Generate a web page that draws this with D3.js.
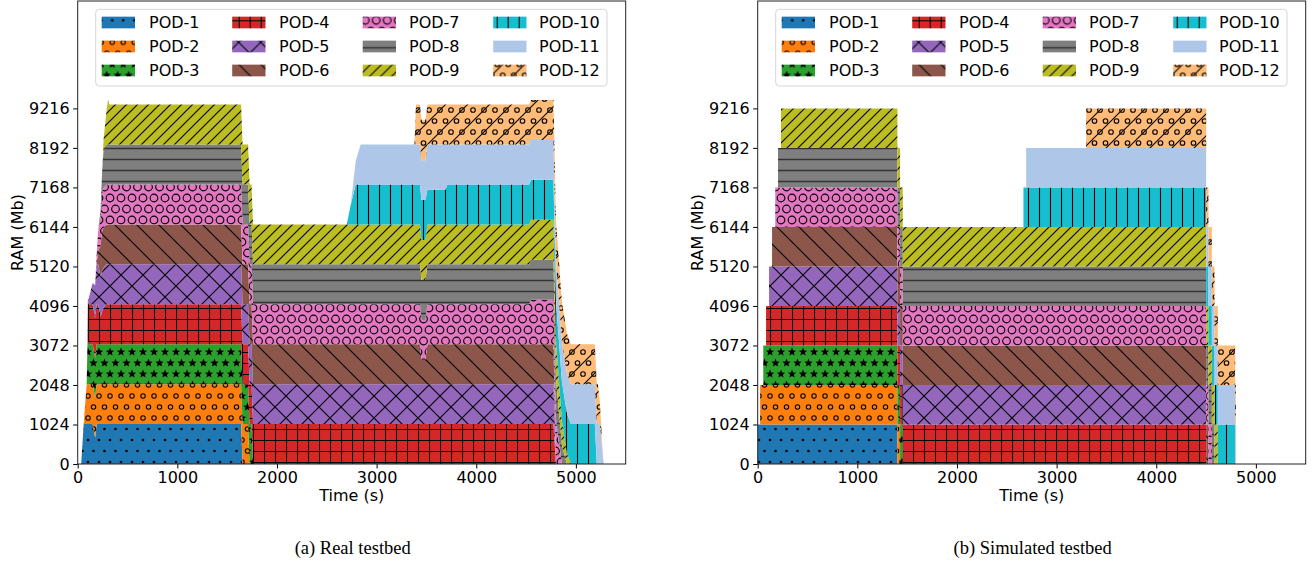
<!DOCTYPE html>
<html>
<head>
<meta charset="utf-8">
<script src="https://cdn.jsdelivr.net/npm/d3@7"></script>
<style>
  html, body { margin: 0; padding: 0; background: #fff; }
  svg { display: block; }
</style>
</head>
<body>
<svg id="fig" width="1315" height="563"></svg>
<script>
// ---- categories, styles per pod ----
const pods = ["POD-1", "POD-2", "POD-3", "POD-4", "POD-5", "POD-6",
              "POD-7", "POD-8", "POD-9", "POD-10", "POD-11", "POD-12"];
const podColors = ["#1f77b4", "#ff7f0e", "#2ca02c", "#d62728", "#9467bd", "#8c564b",
                   "#e377c2", "#7f7f7f", "#bcbd22", "#17becf", "#aec7e8", "#ffbb78"];
const podHatches = [".", "o", "*", "+", "x", "\\", "O", "-", "//", "|", "", "o/"];

// ---- axis ticks ----
const xTicks = [0, 1000, 2000, 3000, 4000, 5000];
const yTicks = [0, 1024, 2048, 3072, 4096, 5120, 6144, 7168, 8192, 9216];

// ---- real testbed: RAM (Mb) per pod at each sample time (s) ----
const realTime = [0, 35, 60, 90, 98, 102, 110, 150, 175, 190, 205, 230, 245, 260, 290,
                  305, 320, 1640, 1655, 1710, 1725, 1745, 1760, 2700, 2740, 2790, 2840, 3380, 3395, 3435,
                  3450, 3490, 3510, 3690, 3710, 4530, 4550, 4775, 4800, 4860, 4910, 4950, 5190, 5210, 5220,
                  5240, 5270, 5280];
const realPod1 = [0, 0, 1035, 1035, 1035, 1035, 1035, 1035, 680, 1035, 1035, 1035, 1035, 1035, 1035,
                  1035, 1035, 1035, 0, 0, 0, 0, 0, 0, 0, 0, 0, 0, 0, 0,
                  0, 0, 0, 0, 0, 0, 0, 0, 0, 0, 0, 0, 0, 0, 0,
                  0, 0, 0];
const realPod2 = [0, 0, 0, 1035, 1035, 1035, 1035, 1035, 1035, 1035, 1035, 1035, 1035, 1035, 1035,
                  1035, 1035, 1035, 1035, 1035, 0, 0, 0, 0, 0, 0, 0, 0, 0, 0,
                  0, 0, 0, 0, 0, 0, 0, 0, 0, 0, 0, 0, 0, 0, 0,
                  0, 0, 0];
const realPod3 = [0, 0, 0, 0, 1035, 1150, 1035, 1035, 1035, 1035, 1035, 1035, 1035, 1035, 1035,
                  1035, 1035, 1035, 1035, 1035, 1035, 1035, 0, 0, 0, 0, 0, 0, 0, 0,
                  0, 0, 0, 0, 0, 0, 0, 0, 0, 0, 0, 0, 0, 0, 0,
                  0, 0, 0];
const realPod4 = [0, 0, 0, 0, 0, 1035, 1035, 1035, 1035, 1035, 1035, 720, 850, 950, 1035,
                  1035, 1035, 1035, 1035, 1035, 1035, 1035, 1035, 1035, 1035, 1035, 1035, 1035, 1035, 1035,
                  1035, 1035, 1035, 1035, 1035, 1035, 1035, 1035, 0, 0, 0, 0, 0, 0, 0,
                  0, 0, 0];
const realPod5 = [0, 0, 0, 0, 0, 0, 150, 550, 850, 1035, 1035, 1035, 1035, 1035, 1035,
                  1035, 1035, 1035, 1035, 1035, 1035, 1035, 1035, 1035, 1035, 1035, 1035, 1035, 1035, 1035,
                  1035, 1035, 1035, 1035, 1035, 1035, 1035, 1035, 0, 0, 0, 0, 0, 0, 0,
                  0, 0, 0];
const realPod6 = [0, 0, 0, 0, 0, 0, 0, 0, 0, 0, 350, 800, 1035, 1035, 1035,
                  1035, 1035, 1035, 1035, 1035, 1035, 1035, 1035, 1035, 1035, 1035, 1035, 1035, 1035, 1035,
                  630, 630, 1035, 1035, 1035, 1035, 1035, 1035, 0, 0, 0, 0, 0, 0, 0,
                  0, 0, 0];
const realPod7 = [0, 0, 0, 0, 0, 0, 0, 0, 0, 250, 500, 750, 950, 1035, 1035,
                  1035, 1035, 1035, 1035, 1035, 1035, 1035, 1035, 1035, 1035, 1035, 1035, 1035, 1035, 1035,
                  1035, 1035, 1035, 1035, 1035, 1035, 1155, 1155, 1155, 0, 0, 0, 0, 0, 0,
                  0, 0, 0];
const realPod8 = [0, 0, 0, 0, 0, 0, 0, 0, 0, 0, 0, 200, 600, 1000, 1035,
                  1035, 1035, 1035, 1035, 1035, 1035, 1035, 1035, 1035, 1035, 1035, 1035, 1035, 1035, 1035,
                  1035, 1035, 1035, 1035, 1035, 1035, 1035, 1035, 1035, 480, 0, 0, 0, 0, 0,
                  0, 0, 0];
const realPod9 = [0, 0, 0, 0, 0, 0, 0, 0, 0, 0, 0, 0, 0, 250, 900,
                  1150, 1035, 1035, 1035, 1035, 1035, 1035, 1035, 1035, 1035, 1035, 1035, 1035, 1035, 1035,
                  1035, 1035, 1035, 1035, 1035, 1035, 1035, 1035, 1035, 620, 280, 0, 0, 0, 0,
                  0, 0, 0];
const realPod10 = [0, 0, 0, 0, 0, 0, 0, 0, 0, 0, 0, 0, 0, 0, 0,
                   0, 0, 0, 0, 0, 0, 0, 0, 0, 500, 1035, 1035, 1035, 1035, 1035,
                   1035, 1035, 900, 900, 1035, 1035, 1035, 1035, 1035, 1035, 1035, 1035, 1035, 0, 0,
                   0, 0, 0];
const realPod11 = [0, 0, 0, 0, 0, 0, 0, 0, 0, 0, 0, 0, 0, 0, 0,
                   0, 0, 0, 0, 0, 0, 0, 0, 0, 0, 600, 1035, 1035, 1035, 1035,
                   1035, 1035, 1170, 1170, 1035, 1035, 1035, 1035, 1035, 1035, 1035, 1035, 1035, 1035, 1035,
                   1035, 260, 0];
const realPod12 = [0, 0, 0, 0, 0, 0, 0, 0, 0, 0, 0, 0, 0, 0, 0,
                   0, 0, 0, 0, 0, 0, 0, 0, 0, 0, 0, 0, 0, 1035, 1035,
                   1035, 1035, 1035, 1035, 1035, 1035, 1035, 1035, 1035, 1035, 1035, 1035, 1035, 1035, 1035,
                   600, 0, 0];

// ---- simulated testbed: RAM (Mb) per pod, held until the next sample time (s) ----
const simTime = [0, 24, 56, 84, 114, 144, 176, 204, 234, 1402, 1429, 1456,
                 2667, 2694, 3296, 4501, 4524, 4558, 4585, 4618, 4792, 4800];
const simPod1  = [1024, 1024, 1024, 1024, 1024, 1024, 1024, 1024, 1024, 0, 0, 0, 0, 0, 0, 0, 0, 0, 0, 0, 0, 0];
const simPod2  = [0, 1024, 1024, 1024, 1024, 1024, 1024, 1024, 1024, 1024, 0, 0, 0, 0, 0, 0, 0, 0, 0, 0, 0, 0];
const simPod3  = [0, 0, 1024, 1024, 1024, 1024, 1024, 1024, 1024, 1024, 1024, 0, 0, 0, 0, 0, 0, 0, 0, 0, 0, 0];
const simPod4  = [0, 0, 0, 1024, 1024, 1024, 1024, 1024, 1024, 1024, 1024, 1024, 1024, 1024, 1024, 0, 0, 0, 0, 0, 0, 0];
const simPod5  = [0, 0, 0, 0, 1024, 1024, 1024, 1024, 1024, 1024, 1024, 1024, 1024, 1024, 1024, 0, 0, 0, 0, 0, 0, 0];
const simPod6  = [0, 0, 0, 0, 0, 1024, 1024, 1024, 1024, 1024, 1024, 1024, 1024, 1024, 1024, 1024, 0, 0, 0, 0, 0, 0];
const simPod7  = [0, 0, 0, 0, 0, 0, 1024, 1024, 1024, 1024, 1024, 1024, 1024, 1024, 1024, 1024, 1024, 0, 0, 0, 0, 0];
const simPod8  = [0, 0, 0, 0, 0, 0, 0, 1024, 1024, 1024, 1024, 1024, 1024, 1024, 1024, 1024, 1024, 1024, 0, 0, 0, 0];
const simPod9  = [0, 0, 0, 0, 0, 0, 0, 0, 1024, 1024, 1024, 1024, 1024, 1024, 1024, 1024, 1024, 1024, 1024, 0, 0, 0];
const simPod10 = [0, 0, 0, 0, 0, 0, 0, 0, 0, 0, 0, 0, 1024, 1024, 1024, 1024, 1024, 1024, 1024, 1024, 0, 0];
const simPod11 = [0, 0, 0, 0, 0, 0, 0, 0, 0, 0, 0, 0, 0, 1024, 1024, 1024, 1024, 1024, 1024, 1024, 1024, 0];
const simPod12 = [0, 0, 0, 0, 0, 0, 0, 0, 0, 0, 0, 0, 0, 0, 1024, 1024, 1024, 1024, 1024, 1024, 1024, 0];

const realSeries = [realPod1, realPod2, realPod3, realPod4, realPod5, realPod6,
                    realPod7, realPod8, realPod9, realPod10, realPod11, realPod12];
const simSeries = [simPod1, simPod2, simPod3, simPod4, simPod5, simPod6,
                   simPod7, simPod8, simPod9, simPod10, simPod11, simPod12];

// ---- figure ----
const svg = d3.select("#fig");
const defs = svg.append("defs");
const FONT = "'DejaVu Sans', sans-serif";

// hatch tiles (black strokes over the pod colour)
const HS = 11;
function starPath(cx, cy, R, r) {
  const pts = [];
  for (let k = 0; k < 10; k++) {
    const a = -Math.PI / 2 + k * Math.PI / 5;
    const rad = k % 2 === 0 ? R : r;
    pts.push([cx + rad * Math.cos(a), cy + rad * Math.sin(a)]);
  }
  return "M" + pts.map(p => p[0].toFixed(2) + "," + p[1].toFixed(2)).join("L") + "Z";
}
function nePath(s) {
  return `M-1,1L1,-1M0,${s}L${s},0M${s - 1},${s + 1}L${s + 1},${s - 1}`;
}
function sePath(s) {
  return `M0,0L${s},${s}M-1,${s - 1}L1,${s + 1}M${s - 1},-1L${s + 1},1`;
}
const stagger11 = [[0, 0], [HS, 0], [HS / 2, HS], [0, 2 * HS], [HS, 2 * HS]];
const stagger22 = [[0, 0], [HS, 0], [2 * HS, 0], [HS / 2, HS], [1.5 * HS, HS],
                   [0, 2 * HS], [HS, 2 * HS], [2 * HS, 2 * HS]];

function makePattern(id, color, hatch) {
  let w = HS, h = HS;
  if ([".", "o", "*", "O"].includes(hatch)) { w = HS; h = 2 * HS; }
  if (["x", "\\", "o/"].includes(hatch)) { w = 2 * HS; h = 2 * HS; }
  const p = defs.append("pattern").attr("id", id)
    .attr("patternUnits", "userSpaceOnUse").attr("width", w).attr("height", h);
  p.append("rect").attr("width", w).attr("height", h).attr("fill", color);
  const line = d => p.append("path").attr("d", d).attr("fill", "none")
    .attr("stroke", "#000").attr("stroke-width", 1.1);
  switch (hatch) {
    case ".":
      stagger11.forEach(([x, y]) => p.append("circle").attr("cx", x).attr("cy", y).attr("r", 1.3).attr("fill", "#000"));
      break;
    case "o":
      stagger11.forEach(([x, y]) => p.append("circle").attr("cx", x).attr("cy", y).attr("r", 2.2)
        .attr("fill", "none").attr("stroke", "#000").attr("stroke-width", 1.1));
      break;
    case "O":
      stagger11.forEach(([x, y]) => p.append("circle").attr("cx", x).attr("cy", y).attr("r", 3.85)
        .attr("fill", "none").attr("stroke", "#000").attr("stroke-width", 1.1));
      break;
    case "*":
      stagger11.forEach(([x, y]) => p.append("path").attr("d", starPath(x, y, 4.4, 2.0)).attr("fill", "#000"));
      break;
    case "+":
      line(`M0,0.5H${HS}M0.5,0V${HS}`);
      break;
    case "-":
      line(`M0,5.5H${HS}`).attr("stroke-width", 1.5).attr("stroke", "#333");
      break;
    case "|":
      line(`M5.5,0V${HS}`);
      break;
    case "//":
      line(nePath(HS));
      break;
    case "\\":
      line(sePath(2 * HS));
      break;
    case "x":
      line(nePath(2 * HS) + sePath(2 * HS));
      break;
    case "o/":
      stagger22.forEach(([x, y]) => p.append("circle").attr("cx", x).attr("cy", y).attr("r", 2.3)
        .attr("fill", "none").attr("stroke", "#000").attr("stroke-width", 1.1));
      line(nePath(2 * HS));
      break;
    default:
      break;
  }
}
pods.forEach((name, i) => makePattern("hatch" + i, podColors[i], podHatches[i]));

// panel geometry
const plotW = 548, plotTop = 1, plotBottom = 464;
const panels = [
  { left: 77.7, times: realTime, series: realSeries, curve: d3.curveLinear, caption: "(a) Real testbed" },
  { left: 757.7, times: simTime, series: simSeries, curve: d3.curveStepAfter, caption: "(b) Simulated testbed" }
];

panels.forEach((pn, pi) => {
  const x = d3.scaleLinear().domain([0, 5500]).range([pn.left, pn.left + plotW]);
  const y = d3.scaleLinear().domain([0, 12000]).range([plotBottom, plotTop]);

  const rows = pn.times.map((t, i) => {
    const r = { t };
    pods.forEach((name, k) => { r[name] = pn.series[k][i]; });
    return r;
  });
  const stacked = d3.stack().keys(pods)(rows);

  const clipId = "clip" + pi;
  defs.append("clipPath").attr("id", clipId).append("rect")
    .attr("x", pn.left).attr("y", plotTop).attr("width", plotW).attr("height", plotBottom - plotTop);

  const area = d3.area()
    .x(d => x(d.data.t)).y0(d => y(d[0])).y1(d => y(d[1]))
    .curve(pn.curve);

  svg.append("g").attr("clip-path", `url(#${clipId})`)
    .selectAll("path").data(stacked).join("path")
    .attr("d", area)
    .attr("fill", (d, i) => `url(#hatch${i})`);

  // axes
  const gx = svg.append("g").attr("transform", `translate(0,${plotBottom})`)
    .call(d3.axisBottom(x).tickValues(xTicks).tickFormat(d3.format("d"))
      .tickSize(4.5).tickSizeOuter(0).tickPadding(3.5));
  const gy = svg.append("g").attr("transform", `translate(${pn.left},0)`)
    .call(d3.axisLeft(y).tickValues(yTicks).tickFormat(d3.format("d"))
      .tickSize(4.5).tickSizeOuter(0).tickPadding(3.5));
  [gx, gy].forEach(g => {
    g.select(".domain").remove();
    g.selectAll(".tick line").attr("stroke", "#000").attr("stroke-width", 1);
    g.selectAll(".tick text").attr("fill", "#000").style("font-family", FONT).style("font-size", "16px");
  });

  // frame
  svg.append("rect")
    .attr("x", pn.left).attr("y", plotTop).attr("width", plotW).attr("height", plotBottom - plotTop)
    .attr("fill", "none").attr("stroke", "#222").attr("stroke-width", 1);

  // axis labels
  svg.append("text")
    .attr("transform", `translate(${pn.left - 54.7},${(plotTop + plotBottom) / 2}) rotate(-90)`)
    .attr("text-anchor", "middle").style("font-family", FONT).style("font-size", "16px")
    .attr("fill", "#000").text("RAM (Mb)");
  svg.append("text")
    .attr("x", pn.left + plotW / 2).attr("y", 501)
    .attr("text-anchor", "middle").style("font-family", FONT).style("font-size", "16px")
    .attr("fill", "#000").text("Time (s)");

  // legend
  const lg = svg.append("g").attr("transform", `translate(${pn.left + 18},9.3)`);
  lg.append("rect").attr("width", 511.3).attr("height", 76.7).attr("rx", 3.5)
    .attr("fill", "#fff").attr("fill-opacity", 0.8).attr("stroke", "#d6d6d6").attr("stroke-width", 1);
  pods.forEach((name, i) => {
    const col = Math.floor(i / 3), row = i % 3;
    const cy = 13.2 + row * 24;
    lg.append("rect").attr("x", 6 + col * 130.5).attr("y", cy - 5.85)
      .attr("width", 33.3).attr("height", 11.7).attr("fill", `url(#hatch${i})`);
    lg.append("text").attr("x", 53.3 + col * 130).attr("y", cy + 5.8)
      .style("font-family", FONT).style("font-size", "16px").attr("fill", "#000").text(name);
  });

  // sub-caption
  svg.append("text")
    .attr("x", pn.left + plotW / 2 + 1).attr("y", 554)
    .attr("text-anchor", "middle")
    .style("font-family", "'Liberation Serif', 'Times New Roman', serif").style("font-size", "18.5px")
    .attr("fill", "#000").text(pn.caption);
});
</script>
</body>
</html>
